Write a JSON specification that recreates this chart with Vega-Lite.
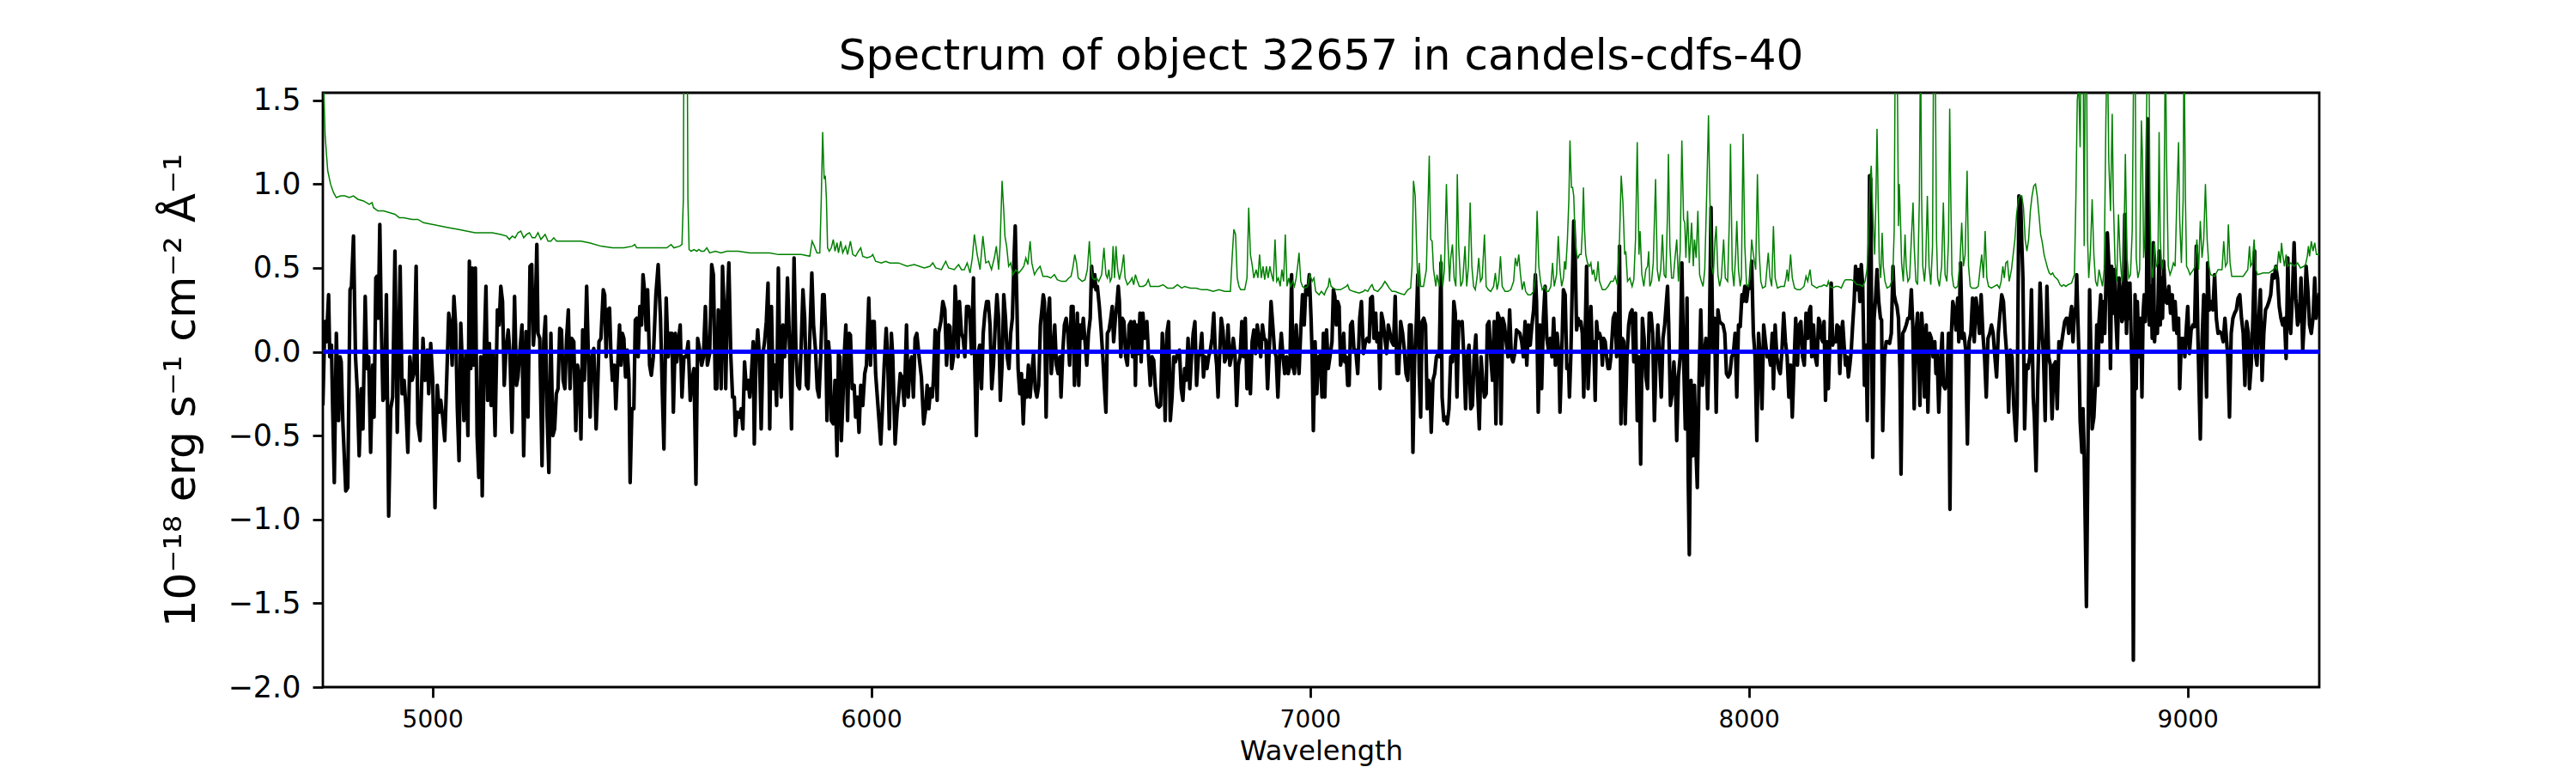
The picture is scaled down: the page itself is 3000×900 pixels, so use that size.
{
"$schema": "https://vega.github.io/schema/vega-lite/v6.json",
"width": 2325,
"height": 692,
"autosize": {"type": "none"},
"padding": {"left": 376, "top": 108, "right": 299, "bottom": 100},
"background": "white",
"title": {"text": "Spectrum of object 32657 in candels-cdfs-40", "font": "DejaVu Sans", "fontSize": 50, "fontWeight": "normal", "color": "#000000", "anchor": "middle", "baseline": "alphabetic", "offset": 13, "dy": 44},
"config": {
  "view": {"stroke": "#000000", "strokeWidth": 2.8},
  "axis": {"grid": false, "domain": false, "tickColor": "#000000", "tickWidth": 2.8, "tickSize": 12, "labelFont": "DejaVu Sans", "labelColor": "#000000", "titleFont": "DejaVu Sans", "titleColor": "#000000", "titleFontWeight": "normal", "labelFlush": false, "labelOverlap": false}
},
"datasets": {
"flux": [
{"wl":4750,"val":-0.32},{"wl":4754.6,"val":0.18},{"wl":4757.9,"val":0.06},{"wl":4763.1,"val":0.34},{"wl":4765.7,"val":-0.03},{"wl":4769.6,"val":0.04},{"wl":4772.2,"val":-0.32},{"wl":4776.1,"val":-0.78},{"wl":4780.7,"val":0.11},{"wl":4785.9,"val":-0.41},{"wl":4789.2,"val":-0.03},{"wl":4791.8,"val":-0.06},{"wl":4795.7,"val":-0.43},{"wl":4802.2,"val":-0.83},{"wl":4806.8,"val":-0.81},{"wl":4812,"val":0.37},{"wl":4815.2,"val":0.39},{"wl":4819.8,"val":0.69},{"wl":4824.4,"val":-0.03},{"wl":4828.3,"val":-0.22},{"wl":4832.8,"val":-0.62},{"wl":4837.4,"val":-0.22},{"wl":4841.3,"val":-0.46},{"wl":4846.5,"val":0.33},{"wl":4850.4,"val":-0.1},{"wl":4854.4,"val":-0.03},{"wl":4858.9,"val":-0.6},{"wl":4863.5,"val":-0.08},{"wl":4866.7,"val":-0.39},{"wl":4870.7,"val":0.44},{"wl":4873.3,"val":0.45},{"wl":4876.5,"val":0.2},{"wl":4879.8,"val":0.76},{"wl":4883,"val":0.2},{"wl":4887,"val":-0.29},{"wl":4890.9,"val":-0.27},{"wl":4894.8,"val":0.34},{"wl":4900,"val":-0.98},{"wl":4904.6,"val":-0.34},{"wl":4909.1,"val":-0.27},{"wl":4914.3,"val":0.6},{"wl":4919.6,"val":-0.48},{"wl":4926.1,"val":0.51},{"wl":4930.6,"val":-0.25},{"wl":4935.2,"val":-0.17},{"wl":4939.1,"val":-0.32},{"wl":4943.7,"val":-0.6},{"wl":4948.2,"val":-0.03},{"wl":4953.5,"val":-0.17},{"wl":4957.4,"val":-0.13},{"wl":4962.6,"val":0.51},{"wl":4966.5,"val":-0.43},{"wl":4971.7,"val":-0.53},{"wl":4978.2,"val":0.08},{"wl":4982.8,"val":-0.17},{"wl":4988,"val":0.01},{"wl":4991.3,"val":-0.25},{"wl":4995.8,"val":0.05},{"wl":5000.4,"val":-0.17},{"wl":5005.6,"val":-0.93},{"wl":5010.8,"val":-0.2},{"wl":5015.4,"val":-0.36},{"wl":5018.7,"val":-0.29},{"wl":5023.2,"val":-0.39},{"wl":5027.8,"val":-0.53},{"wl":5033,"val":-0.1},{"wl":5036.9,"val":0.23},{"wl":5040.8,"val":0.16},{"wl":5044.7,"val":-0.08},{"wl":5048.7,"val":0.33},{"wl":5052.6,"val":0.16},{"wl":5056.5,"val":-0.34},{"wl":5060.4,"val":-0.65},{"wl":5064.3,"val":0.17},{"wl":5068.2,"val":-0.1},{"wl":5071.5,"val":-0.41},{"wl":5076,"val":-0.01},{"wl":5080.6,"val":-0.5},{"wl":5083.9,"val":0.54},{"wl":5087.1,"val":-0.1},{"wl":5090.4,"val":0.5},{"wl":5093.6,"val":-0.08},{"wl":5097.6,"val":0.5},{"wl":5101.5,"val":-0.5},{"wl":5105.4,"val":-0.75},{"wl":5110,"val":-0.03},{"wl":5113.2,"val":-0.86},{"wl":5117.8,"val":0.01},{"wl":5121.7,"val":0.39},{"wl":5125.6,"val":-0.29},{"wl":5129.5,"val":0.05},{"wl":5133.4,"val":-0.32},{"wl":5137.3,"val":-0.01},{"wl":5142.5,"val":-0.5},{"wl":5147.8,"val":0.25},{"wl":5151.7,"val":0.16},{"wl":5155.6,"val":0.39},{"wl":5159.5,"val":0.3},{"wl":5163.4,"val":-0.2},{"wl":5167.3,"val":0.01},{"wl":5172.5,"val":0.13},{"wl":5176.4,"val":-0.01},{"wl":5181,"val":-0.48},{"wl":5186.9,"val":0.33},{"wl":5191.4,"val":-0.2},{"wl":5194.7,"val":-0.15},{"wl":5198.6,"val":-0.01},{"wl":5203.8,"val":0.16},{"wl":5207.7,"val":-0.62},{"wl":5213,"val":0.12},{"wl":5217.5,"val":-0.39},{"wl":5222.1,"val":0.51},{"wl":5226,"val":0.52},{"wl":5229.9,"val":0.04},{"wl":5233.8,"val":0.2},{"wl":5237.7,"val":0.64},{"wl":5240.3,"val":0.11},{"wl":5244.3,"val":0.08},{"wl":5249.5,"val":-0.68},{"wl":5253.4,"val":0.06},{"wl":5257.3,"val":0.21},{"wl":5261.2,"val":-0.39},{"wl":5265.1,"val":-0.72},{"wl":5269.7,"val":0.11},{"wl":5274.2,"val":-0.5},{"wl":5278.2,"val":-0.46},{"wl":5282.1,"val":-0.25},{"wl":5286,"val":-0.22},{"wl":5289.9,"val":0.14},{"wl":5293.8,"val":0.13},{"wl":5297.7,"val":-0.17},{"wl":5301.6,"val":-0.22},{"wl":5305.5,"val":0.08},{"wl":5309.5,"val":0.25},{"wl":5313.4,"val":-0.22},{"wl":5317.3,"val":0.08},{"wl":5321.9,"val":0.06},
{"wl":5326.5,"val":-0.47},{"wl":5330.4,"val":-0.08},{"wl":5334.9,"val":-0.15},{"wl":5338.2,"val":-0.52},{"wl":5342.1,"val":0.13},{"wl":5346,"val":-0.17},{"wl":5351.2,"val":0.39},{"wl":5355.2,"val":-0.03},{"wl":5359.1,"val":-0.39},{"wl":5363,"val":-0.03},{"wl":5367.5,"val":0.02},{"wl":5372.8,"val":-0.46},{"wl":5376,"val":-0.25},{"wl":5379.3,"val":0.06},{"wl":5383.8,"val":0.08},{"wl":5389.1,"val":0.37},{"wl":5392.3,"val":0.34},{"wl":5395.6,"val":-0.03},{"wl":5398.8,"val":0.25},{"wl":5403.4,"val":0.26},{"wl":5406.7,"val":-0.03},{"wl":5409.9,"val":-0.17},{"wl":5414.5,"val":-0.08},{"wl":5417.7,"val":-0.34},{"wl":5421.7,"val":-0.1},{"wl":5426.2,"val":0.16},{"wl":5429.5,"val":-0.08},{"wl":5432.7,"val":0.11},{"wl":5436,"val":0.08},{"wl":5439.9,"val":-0.15},{"wl":5443.8,"val":0.01},{"wl":5447.7,"val":-0.17},{"wl":5450.3,"val":-0.78},{"wl":5454.3,"val":-0.34},{"wl":5458.8,"val":-0.34},{"wl":5462.1,"val":0.19},{"wl":5465.3,"val":0.2},{"wl":5468.6,"val":-0.03},{"wl":5472.5,"val":0.27},{"wl":5476.4,"val":0.16},{"wl":5479.7,"val":0.46},{"wl":5482.9,"val":0.37},{"wl":5486.9,"val":0.13},{"wl":5490.1,"val":0.37},{"wl":5494.7,"val":-0.08},{"wl":5498.6,"val":-0.14},{"wl":5503.2,"val":-0.03},{"wl":5509,"val":0.34},{"wl":5514.2,"val":0.52},{"wl":5519.5,"val":0.2},{"wl":5524,"val":-0.27},{"wl":5527.3,"val":-0.58},{"wl":5532.5,"val":0.32},{"wl":5537.1,"val":-0.03},{"wl":5541.6,"val":0.11},{"wl":5545.5,"val":0.11},{"wl":5548.8,"val":-0.36},{"wl":5553.4,"val":0.11},{"wl":5556.6,"val":-0.06},{"wl":5561.2,"val":0.08},{"wl":5564.4,"val":0.16},{"wl":5568.4,"val":-0.27},{"wl":5572.9,"val":-0.03},{"wl":5578.1,"val":-0.03},{"wl":5582.7,"val":0.06},{"wl":5587.3,"val":-0.29},{"wl":5591.2,"val":-0.17},{"wl":5595.7,"val":-0.1},{"wl":5600.3,"val":-0.79},{"wl":5604.2,"val":0.08},{"wl":5608.8,"val":0.01},{"wl":5613.3,"val":-0.08},{"wl":5617.3,"val":-0.03},{"wl":5621.8,"val":0.27},{"wl":5626.4,"val":-0.08},{"wl":5631.6,"val":-0.01},{"wl":5636.2,"val":0.52},{"wl":5640.1,"val":0.46},{"wl":5644.6,"val":-0.22},{"wl":5647.9,"val":-0.22},{"wl":5651.2,"val":0.25},{"wl":5655.1,"val":0.16},{"wl":5657.7,"val":-0.22},{"wl":5660.9,"val":0.51},{"wl":5664.2,"val":0.27},{"wl":5668.1,"val":-0.22},{"wl":5672,"val":0.3},{"wl":5675.3,"val":0.53},{"wl":5679.8,"val":-0.03},{"wl":5683.8,"val":-0.27},{"wl":5687.7,"val":-0.27},{"wl":5690.3,"val":-0.5},{"wl":5694.2,"val":-0.36},{"wl":5698.8,"val":-0.39},{"wl":5703.3,"val":-0.34},{"wl":5707.2,"val":-0.46},{"wl":5711.1,"val":-0.06},{"wl":5715.1,"val":-0.22},{"wl":5719,"val":-0.17},{"wl":5722.9,"val":-0.27},{"wl":5726.8,"val":-0.13},{"wl":5730.7,"val":0.06},{"wl":5733.3,"val":-0.55},{"wl":5737.2,"val":-0.03},{"wl":5741.1,"val":0.13},{"wl":5745.1,"val":-0.03},{"wl":5749,"val":-0.46},{"wl":5752.9,"val":-0.01},{"wl":5756.8,"val":0.06},{"wl":5760.7,"val":0.18},{"wl":5764.6,"val":0.41},{"wl":5768.5,"val":-0.46},{"wl":5772.4,"val":0.27},{"wl":5776.3,"val":-0.22},{"wl":5780.3,"val":-0.08},{"wl":5784.2,"val":-0.32},{"wl":5788.1,"val":0.5},{"wl":5791.3,"val":-0.03},{"wl":5794.6,"val":-0.27},{"wl":5798.5,"val":0.16},{"wl":5802.4,"val":-0.03},{"wl":5806.3,"val":0.16},{"wl":5808.9,"val":0.44},{"wl":5812.9,"val":0.11},{"wl":5818.1,"val":-0.46},{"wl":5823.9,"val":0.56},{"wl":5828.5,"val":-0.03},{"wl":5832.4,"val":-0.2},{"wl":5836.3,"val":-0.22},{"wl":5840.2,"val":0.04},{"wl":5844.2,"val":0.37},{"wl":5848.1,"val":0.2},{"wl":5852,"val":-0.2},{"wl":5855.9,"val":-0.22},{"wl":5859.8,"val":0.08},{"wl":5864.4,"val":0.47},{"wl":5868.3,"val":0.16},{"wl":5872.8,"val":0.01},{"wl":5876.8,"val":-0.22},{"wl":5880.7,"val":-0.27},{"wl":5884.6,"val":-0.03},{"wl":5889.1,"val":0.34},
{"wl":5892.5,"val":0.34},{"wl":5895.7,"val":0.13},{"wl":5899,"val":-0.41},{"wl":5902.2,"val":0.06},{"wl":5905.5,"val":-0.03},{"wl":5908.8,"val":-0.41},{"wl":5913.3,"val":-0.43},{"wl":5917.2,"val":-0.17},{"wl":5921.8,"val":-0.62},{"wl":5925.1,"val":-0.01},{"wl":5928.3,"val":-0.03},{"wl":5931.6,"val":-0.53},{"wl":5935.5,"val":-0.27},{"wl":5938.1,"val":-0.03},{"wl":5942,"val":0.16},{"wl":5945.9,"val":-0.41},{"wl":5949.8,"val":0.11},{"wl":5952.4,"val":0.1},{"wl":5956.4,"val":-0.22},{"wl":5960.9,"val":-0.2},{"wl":5964.2,"val":-0.39},{"wl":5968.1,"val":-0.27},{"wl":5972,"val":-0.48},{"wl":5975.9,"val":-0.2},{"wl":5980.5,"val":-0.32},{"wl":5985,"val":-0.13},{"wl":5988.9,"val":-0.08},{"wl":5994.2,"val":0.32},{"wl":5998.1,"val":-0.08},{"wl":6002,"val":0.18},{"wl":6006.6,"val":0.18},{"wl":6009.8,"val":-0.13},{"wl":6013.7,"val":-0.27},{"wl":6017.6,"val":-0.41},{"wl":6021.6,"val":-0.55},{"wl":6025.5,"val":-0.32},{"wl":6029.4,"val":-0.08},{"wl":6033.9,"val":0.14},{"wl":6037.2,"val":-0.03},{"wl":6041.1,"val":-0.46},{"wl":6045.7,"val":0.11},{"wl":6048.9,"val":-0.03},{"wl":6054.2,"val":-0.55},{"wl":6058.7,"val":-0.36},{"wl":6062,"val":-0.27},{"wl":6065.9,"val":-0.13},{"wl":6069.8,"val":-0.15},{"wl":6075,"val":-0.32},{"wl":6080.2,"val":0.16},{"wl":6084.1,"val":-0.27},{"wl":6088.1,"val":-0.08},{"wl":6092,"val":-0.03},{"wl":6095.9,"val":-0.27},{"wl":6099.8,"val":0.08},{"wl":6103.7,"val":0.11},{"wl":6108.9,"val":-0.03},{"wl":6114.1,"val":-0.15},{"wl":6119.4,"val":-0.43},{"wl":6123.9,"val":-0.34},{"wl":6127.2,"val":-0.2},{"wl":6131.1,"val":-0.34},{"wl":6135,"val":-0.22},{"wl":6138.9,"val":-0.27},{"wl":6141.5,"val":-0.17},{"wl":6145.4,"val":0.13},{"wl":6150,"val":-0.29},{"wl":6153.3,"val":0.11},{"wl":6158.5,"val":0.18},{"wl":6163,"val":0.3},{"wl":6167.6,"val":0.25},{"wl":6171.5,"val":-0.08},{"wl":6176.1,"val":0.16},{"wl":6179.3,"val":0.15},{"wl":6183.3,"val":-0.1},{"wl":6187.2,"val":-0.03},{"wl":6191.1,"val":0.39},{"wl":6194.3,"val":0.23},{"wl":6197.6,"val":-0.03},{"wl":6200.9,"val":0.3},{"wl":6205.4,"val":0.11},{"wl":6209.3,"val":0.08},{"wl":6213.2,"val":-0.03},{"wl":6217.2,"val":0.27},{"wl":6221.7,"val":0.27},{"wl":6225,"val":0.2},{"wl":6228.2,"val":-0.01},{"wl":6232.8,"val":0.44},{"wl":6235.4,"val":-0.03},{"wl":6239.3,"val":-0.5},{"wl":6243.2,"val":-0.01},{"wl":6247.1,"val":0.04},{"wl":6251.1,"val":-0.22},{"wl":6255,"val":0.11},{"wl":6258.9,"val":0.23},{"wl":6262.8,"val":0.3},{"wl":6266.7,"val":0.3},{"wl":6270.6,"val":0.16},{"wl":6274.5,"val":-0.22},{"wl":6278.4,"val":-0.08},{"wl":6282.4,"val":0.16},{"wl":6286.3,"val":0.34},{"wl":6290.2,"val":0.2},{"wl":6294.1,"val":-0.29},{"wl":6298,"val":-0.08},{"wl":6301.9,"val":0.34},{"wl":6305.8,"val":0.2},{"wl":6309.7,"val":-0.03},{"wl":6313.7,"val":-0.1},{"wl":6317.6,"val":0.11},{"wl":6321.5,"val":0.2},{"wl":6325.4,"val":0.56},{"wl":6328,"val":0.75},{"wl":6331.9,"val":0.27},{"wl":6334.5,"val":-0.1},{"wl":6338.4,"val":-0.25},{"wl":6342.3,"val":-0.13},{"wl":6346.3,"val":-0.43},{"wl":6350.2,"val":-0.17},{"wl":6354.1,"val":-0.27},{"wl":6358,"val":-0.08},{"wl":6361.9,"val":-0.27},{"wl":6365.8,"val":-0.13},{"wl":6369.7,"val":-0.01},{"wl":6373.6,"val":-0.22},{"wl":6377.5,"val":-0.27},{"wl":6381.5,"val":-0.2},{"wl":6385.4,"val":0.16},{"wl":6388,"val":0.23},{"wl":6391.9,"val":0.34},{"wl":6394.5,"val":0.3},{"wl":6398.4,"val":-0.39},{"wl":6402.3,"val":0.2},{"wl":6406.2,"val":0.32},{"wl":6410.1,"val":-0.13},{"wl":6414.1,"val":-0.01},{"wl":6418,"val":0.16},{"wl":6421.9,"val":-0.08},{"wl":6425.8,"val":-0.13},{"wl":6429.7,"val":-0.03},{"wl":6432.3,"val":-0.27},{"wl":6436.2,"val":-0.01},{"wl":6440.1,"val":0.16},{"wl":6444.1,"val":0.2},{"wl":6448,"val":0.11},{"wl":6451.9,"val":-0.08},{"wl":6455.8,"val":0.27},
{"wl":6459.8,"val":0.27},{"wl":6463,"val":-0.2},{"wl":6466.3,"val":-0.03},{"wl":6469.5,"val":0.23},{"wl":6472.8,"val":-0.2},{"wl":6476.1,"val":0.16},{"wl":6479.3,"val":0.08},{"wl":6483.2,"val":0.2},{"wl":6487.1,"val":0.06},{"wl":6491.1,"val":-0.08},{"wl":6495,"val":0.11},{"wl":6498.9,"val":0.2},{"wl":6502.1,"val":0.51},{"wl":6505.4,"val":0.39},{"wl":6509.3,"val":0.46},{"wl":6511.9,"val":0.37},{"wl":6515.2,"val":0.39},{"wl":6519.7,"val":0.27},{"wl":6523.7,"val":0.13},{"wl":6527.6,"val":-0.03},{"wl":6531.5,"val":-0.22},{"wl":6534.7,"val":-0.36},{"wl":6538,"val":0.11},{"wl":6541.9,"val":0.13},{"wl":6545.8,"val":0.2},{"wl":6549.1,"val":0.27},{"wl":6552.3,"val":0.06},{"wl":6556.3,"val":0.2},{"wl":6560.2,"val":0.3},{"wl":6562.8,"val":0.39},{"wl":6565.4,"val":0.3},{"wl":6568.6,"val":-0.03},{"wl":6571.9,"val":0.2},{"wl":6575.8,"val":0.18},{"wl":6579.7,"val":-0.03},{"wl":6583.6,"val":-0.08},{"wl":6587.6,"val":0.16},{"wl":6591.5,"val":0.18},{"wl":6595.4,"val":-0.03},{"wl":6599.3,"val":0.18},{"wl":6601.9,"val":-0.2},{"wl":6604.5,"val":0.16},{"wl":6608.4,"val":-0.01},{"wl":6612.3,"val":0.23},{"wl":6614.9,"val":-0.06},{"wl":6618.9,"val":0.23},{"wl":6622.8,"val":0.08},{"wl":6628,"val":0.18},{"wl":6631.9,"val":-0.03},{"wl":6635.8,"val":-0.2},{"wl":6639.7,"val":-0.03},{"wl":6643.6,"val":-0.05},{"wl":6647.5,"val":-0.22},{"wl":6651.4,"val":-0.32},{"wl":6655.4,"val":-0.33},{"wl":6659.3,"val":-0.32},{"wl":6663.2,"val":0.11},{"wl":6666.4,"val":-0.03},{"wl":6669.7,"val":-0.41},{"wl":6673.6,"val":0.11},{"wl":6677.5,"val":0.18},{"wl":6681.4,"val":-0.41},{"wl":6685.4,"val":-0.27},{"wl":6689.3,"val":-0.03},{"wl":6693.2,"val":-0.06},{"wl":6697.7,"val":-0.01},{"wl":6702.3,"val":0.01},{"wl":6706.2,"val":-0.22},{"wl":6710.1,"val":-0.29},{"wl":6714,"val":-0.1},{"wl":6717.9,"val":-0.17},{"wl":6721.9,"val":0.08},{"wl":6725.8,"val":-0.22},{"wl":6729.7,"val":-0.03},{"wl":6733.6,"val":0.11},{"wl":6737.5,"val":0.18},{"wl":6741.4,"val":-0.2},{"wl":6745.3,"val":-0.03},{"wl":6749.2,"val":-0.01},{"wl":6753.2,"val":0.11},{"wl":6757.1,"val":-0.15},{"wl":6761,"val":-0.03},{"wl":6764.9,"val":-0.1},{"wl":6768.8,"val":-0.03},{"wl":6772.7,"val":0.01},{"wl":6776.6,"val":0.08},{"wl":6780.5,"val":0.23},{"wl":6783.8,"val":0.01},{"wl":6787.1,"val":-0.08},{"wl":6790.3,"val":-0.27},{"wl":6793.6,"val":-0.03},{"wl":6797.5,"val":0.2},{"wl":6801.4,"val":0.13},{"wl":6805.3,"val":-0.06},{"wl":6809.2,"val":-0.03},{"wl":6813.1,"val":0.16},{"wl":6817.1,"val":-0.08},{"wl":6821,"val":-0.03},{"wl":6824.9,"val":0.08},{"wl":6828.8,"val":-0.01},{"wl":6832.7,"val":-0.32},{"wl":6836.6,"val":-0.08},{"wl":6840.5,"val":-0.03},{"wl":6844.4,"val":0.18},{"wl":6848.4,"val":-0.03},{"wl":6852.3,"val":0.2},{"wl":6856.2,"val":-0.22},{"wl":6860.1,"val":-0.01},{"wl":6864,"val":-0.25},{"wl":6867.9,"val":0.06},{"wl":6871.8,"val":0.13},{"wl":6875.7,"val":-0.01},{"wl":6879.6,"val":0.16},{"wl":6883.6,"val":0.08},{"wl":6887.5,"val":-0.03},{"wl":6891.4,"val":0.16},{"wl":6895.3,"val":0.08},{"wl":6899.2,"val":0.07},{"wl":6903.1,"val":-0.22},{"wl":6907,"val":0.01},{"wl":6911,"val":0.3},{"wl":6914.9,"val":0.16},{"wl":6918.8,"val":0.01},{"wl":6922.7,"val":-0.03},{"wl":6926.6,"val":-0.27},{"wl":6930.5,"val":-0.03},{"wl":6934.4,"val":0.11},{"wl":6938.3,"val":-0.03},{"wl":6942.2,"val":-0.13},{"wl":6946.2,"val":-0.03},{"wl":6950.1,"val":-0.13},{"wl":6954,"val":-0.08},{"wl":6957.9,"val":0.46},{"wl":6960.5,"val":-0.08},{"wl":6964.4,"val":-0.13},{"wl":6968.3,"val":0.16},{"wl":6971.6,"val":-0.03},{"wl":6974.8,"val":-0.13},{"wl":6978.8,"val":0.13},{"wl":6982.7,"val":0.34},{"wl":6986.6,"val":0.16},{"wl":6990.5,"val":0.39},{"wl":6994.4,"val":0.34},{"wl":6998.3,"val":0.46},{"wl":7002.2,"val":0.2},{"wl":7004.8,"val":-0.03},{"wl":7007.4,"val":-0.47},{"wl":7011.4,"val":0.06},{"wl":7015.3,"val":-0.25},{"wl":7019.2,"val":-0.03},{"wl":7023.7,"val":-0.02},
{"wl":7027.1,"val":-0.27},{"wl":7030.3,"val":0.11},{"wl":7033.6,"val":-0.27},{"wl":7037.5,"val":0.13},{"wl":7041.4,"val":-0.1},{"wl":7045.3,"val":-0.03},{"wl":7049.9,"val":0.06},{"wl":7053.1,"val":0.37},{"wl":7056.4,"val":0.33},{"wl":7059.7,"val":0.16},{"wl":7062.9,"val":0.3},{"wl":7066.2,"val":0.27},{"wl":7069.4,"val":-0.08},{"wl":7072.7,"val":-0.03},{"wl":7076.6,"val":0.11},{"wl":7079.2,"val":-0.06},{"wl":7082.5,"val":-0.03},{"wl":7085.7,"val":-0.2},{"wl":7089,"val":-0.2},{"wl":7092.3,"val":0.16},{"wl":7096.2,"val":0.18},{"wl":7100.1,"val":0.01},{"wl":7104,"val":0.01},{"wl":7108.6,"val":-0.13},{"wl":7113.1,"val":0.2},{"wl":7117,"val":0.3},{"wl":7121.6,"val":-0.01},{"wl":7126.2,"val":0.06},{"wl":7130.1,"val":0.08},{"wl":7134.6,"val":0.06},{"wl":7137.9,"val":0.32},{"wl":7141.8,"val":0.33},{"wl":7145.7,"val":0.08},{"wl":7149.6,"val":0.23},{"wl":7152.2,"val":0.06},{"wl":7156.2,"val":0.11},{"wl":7159.4,"val":-0.22},{"wl":7162.7,"val":0.23},{"wl":7166.6,"val":0.18},{"wl":7170.5,"val":0.08},{"wl":7174.4,"val":-0.01},{"wl":7178.3,"val":0.16},{"wl":7182.2,"val":0.11},{"wl":7186.1,"val":0.06},{"wl":7190.1,"val":0.04},{"wl":7194,"val":0.33},{"wl":7197.9,"val":-0.13},{"wl":7201.8,"val":-0.13},{"wl":7206.4,"val":0.18},{"wl":7210.9,"val":0.11},{"wl":7214.8,"val":0.01},{"wl":7218.7,"val":-0.13},{"wl":7222.7,"val":-0.17},{"wl":7226.6,"val":0.16},{"wl":7230.5,"val":0.16},{"wl":7234.4,"val":-0.6},{"wl":7238.3,"val":-0.03},{"wl":7242.2,"val":0.18},{"wl":7245.5,"val":0.46},{"wl":7248.7,"val":-0.13},{"wl":7252,"val":-0.39},{"wl":7255.3,"val":0.18},{"wl":7259.2,"val":0.2},{"wl":7263.1,"val":0.16},{"wl":7267,"val":-0.34},{"wl":7270.3,"val":-0.17},{"wl":7273.5,"val":-0.22},{"wl":7276.1,"val":-0.48},{"wl":7280,"val":-0.17},{"wl":7284,"val":-0.13},{"wl":7287.9,"val":-0.03},{"wl":7291.8,"val":-0.01},{"wl":7294.4,"val":-0.03},{"wl":7298.3,"val":0.53},{"wl":7300.9,"val":-0.27},{"wl":7304.8,"val":-0.41},{"wl":7308.7,"val":-0.39},{"wl":7312.6,"val":-0.43},{"wl":7316.5,"val":-0.34},{"wl":7320.5,"val":-0.03},{"wl":7324.4,"val":-0.06},{"wl":7327.6,"val":0.3},{"wl":7330.9,"val":0.23},{"wl":7334.8,"val":-0.27},{"wl":7338.7,"val":0.18},{"wl":7342.6,"val":0.16},{"wl":7346.5,"val":0.18},{"wl":7350.5,"val":-0.03},{"wl":7354.4,"val":-0.34},{"wl":7358.3,"val":-0.03},{"wl":7362.2,"val":0.04},{"wl":7366.1,"val":-0.34},{"wl":7370,"val":-0.32},{"wl":7373.9,"val":-0.03},{"wl":7377.8,"val":0.1},{"wl":7381.7,"val":-0.22},{"wl":7385.7,"val":-0.46},{"wl":7389.6,"val":-0.03},{"wl":7393.5,"val":-0.17},{"wl":7397.4,"val":-0.27},{"wl":7401.3,"val":-0.25},{"wl":7403.9,"val":0.16},{"wl":7407.8,"val":0.18},{"wl":7411.7,"val":-0.03},{"wl":7415.7,"val":-0.17},{"wl":7419.6,"val":0.18},{"wl":7423.5,"val":-0.43},{"wl":7427.4,"val":0.23},{"wl":7431.3,"val":0.2},{"wl":7435.2,"val":-0.43},{"wl":7439.1,"val":0.2},{"wl":7443,"val":0.16},{"wl":7446.9,"val":0.06},{"wl":7450.9,"val":-0.03},{"wl":7454.8,"val":0.25},{"wl":7458.7,"val":-0.03},{"wl":7462.6,"val":-0.06},{"wl":7466.5,"val":-0.01},{"wl":7470.4,"val":0.13},{"wl":7474.3,"val":0.12},{"wl":7478.2,"val":0.11},{"wl":7482.2,"val":0.06},{"wl":7486.1,"val":-0.03},{"wl":7490,"val":0.18},{"wl":7493.9,"val":-0.08},{"wl":7497.8,"val":0.16},{"wl":7501.7,"val":0.04},{"wl":7505.6,"val":0.16},{"wl":7509.5,"val":0.25},{"wl":7513.5,"val":0.46},{"wl":7516.1,"val":0.3},{"wl":7520,"val":-0.36},{"wl":7523.9,"val":0.16},{"wl":7527.8,"val":-0.22},{"wl":7531.7,"val":0.2},{"wl":7535.6,"val":0.39},{"wl":7539.5,"val":0.08},{"wl":7543.4,"val":0.01},{"wl":7547.4,"val":0.08},{"wl":7551.3,"val":-0.03},{"wl":7555.2,"val":0.2},{"wl":7559.1,"val":-0.08},{"wl":7563,"val":0.11},{"wl":7566.9,"val":-0.01},{"wl":7569.5,"val":-0.36},{"wl":7573.4,"val":-0.03},{"wl":7577.4,"val":0.37},{"wl":7581.3,"val":0.34},{"wl":7585.2,"val":-0.1},{"wl":7589.1,"val":-0.08},
{"wl":7591.1,"val":-0.27},{"wl":7594.4,"val":-0.01},{"wl":7597.6,"val":0.41},{"wl":7600.9,"val":0.78},{"wl":7604.1,"val":0.58},{"wl":7607.4,"val":0.13},{"wl":7610.7,"val":0.2},{"wl":7613.9,"val":0.16},{"wl":7617.2,"val":0.18},{"wl":7620.4,"val":0.11},{"wl":7623.7,"val":-0.27},{"wl":7627,"val":0.11},{"wl":7630.2,"val":0.51},{"wl":7633.5,"val":-0.22},{"wl":7636.7,"val":-0.03},{"wl":7640,"val":0.27},{"wl":7643.3,"val":0.01},{"wl":7646.5,"val":0.06},{"wl":7649.8,"val":-0.29},{"wl":7653,"val":0.18},{"wl":7656.3,"val":0.08},{"wl":7659.6,"val":0.11},{"wl":7662.8,"val":0.08},{"wl":7666.1,"val":-0.08},{"wl":7669.3,"val":0.08},{"wl":7672.6,"val":0.06},{"wl":7675.9,"val":-0.03},{"wl":7679.1,"val":-0.1},{"wl":7682.4,"val":-0.1},{"wl":7685.6,"val":-0.03},{"wl":7690.9,"val":0.2},{"wl":7694.8,"val":0.23},{"wl":7698.7,"val":-0.03},{"wl":7702.6,"val":0.13},{"wl":7705.2,"val":0.63},{"wl":7708.5,"val":-0.43},{"wl":7711.7,"val":0.08},{"wl":7715,"val":0.06},{"wl":7718.2,"val":-0.43},{"wl":7722.2,"val":-0.03},{"wl":7726.1,"val":0.16},{"wl":7730,"val":0.23},{"wl":7733.9,"val":0.25},{"wl":7737.8,"val":-0.06},{"wl":7741.7,"val":0.23},{"wl":7745.6,"val":-0.41},{"wl":7749.5,"val":-0.03},{"wl":7753.4,"val":-0.67},{"wl":7757.4,"val":0.2},{"wl":7761.3,"val":0.08},{"wl":7765.2,"val":-0.15},{"wl":7769.1,"val":-0.22},{"wl":7773,"val":0.23},{"wl":7776.9,"val":0.23},{"wl":7780.8,"val":0.11},{"wl":7784.7,"val":-0.41},{"wl":7788.7,"val":-0.03},{"wl":7792.6,"val":0.16},{"wl":7796.5,"val":-0.03},{"wl":7800.4,"val":-0.27},{"wl":7804.3,"val":0.08},{"wl":7808.2,"val":0.16},{"wl":7812.1,"val":0.3},{"wl":7814.7,"val":0.39},{"wl":7817.3,"val":0.16},{"wl":7821.3,"val":-0.32},{"wl":7825.2,"val":-0.25},{"wl":7829.1,"val":-0.06},{"wl":7833,"val":-0.22},{"wl":7835.6,"val":-0.53},{"wl":7839.5,"val":-0.15},{"wl":7843.4,"val":-0.03},{"wl":7847.3,"val":0.53},{"wl":7851.2,"val":-0.03},{"wl":7855.2,"val":-0.46},{"wl":7859.1,"val":0.32},{"wl":7861.7,"val":-0.74},{"wl":7864.3,"val":-1.21},{"wl":7868.2,"val":-0.17},{"wl":7872.1,"val":-0.62},{"wl":7876,"val":-0.2},{"wl":7879.9,"val":-0.62},{"wl":7882.5,"val":-0.81},{"wl":7886.5,"val":-0.17},{"wl":7890.4,"val":0.25},{"wl":7894.3,"val":-0.2},{"wl":7898.2,"val":-0.01},{"wl":7902.1,"val":0.08},{"wl":7906,"val":-0.34},{"wl":7909.9,"val":0.08},{"wl":7913.8,"val":0.86},{"wl":7917.8,"val":0.01},{"wl":7921.7,"val":0.2},{"wl":7925.6,"val":-0.36},{"wl":7929.5,"val":0.25},{"wl":7933.4,"val":0.18},{"wl":7937.3,"val":0.17},{"wl":7941.2,"val":0.16},{"wl":7945.1,"val":0.11},{"wl":7949,"val":-0.13},{"wl":7953,"val":-0.15},{"wl":7956.9,"val":-0.13},{"wl":7960.8,"val":-0.03},{"wl":7964.7,"val":-0.01},{"wl":7968.6,"val":0.11},{"wl":7972.5,"val":-0.27},{"wl":7976.4,"val":0.16},{"wl":7980.3,"val":0.15},{"wl":7984.3,"val":0.34},{"wl":7986.9,"val":0.3},{"wl":7990.8,"val":0.39},{"wl":7994.7,"val":0.3},{"wl":7998.6,"val":0.39},{"wl":8002.5,"val":0.38},{"wl":8006.4,"val":0.54},{"wl":8010.3,"val":0.11},{"wl":8014.2,"val":-0.03},{"wl":8018.2,"val":-0.53},{"wl":8022.1,"val":0.11},{"wl":8026,"val":-0.03},{"wl":8029.9,"val":-0.34},{"wl":8033.8,"val":0.16},{"wl":8037.7,"val":0.06},{"wl":8041.6,"val":-0.03},{"wl":8045.5,"val":-0.01},{"wl":8049.4,"val":-0.08},{"wl":8053.4,"val":0.11},{"wl":8056,"val":-0.22},{"wl":8059.9,"val":0.16},{"wl":8063.8,"val":-0.03},{"wl":8067.7,"val":-0.1},{"wl":8071.6,"val":-0.13},{"wl":8075.5,"val":0.01},{"wl":8079.4,"val":0.23},{"wl":8083.4,"val":0.06},{"wl":8087.3,"val":-0.03},{"wl":8091.2,"val":-0.27},{"wl":8095.1,"val":-0.08},{"wl":8099,"val":-0.39},{"wl":8102.9,"val":-0.08},{"wl":8106.8,"val":0.2},{"wl":8110.7,"val":-0.08},{"wl":8114.7,"val":0.16},{"wl":8118.6,"val":0.18},{"wl":8122.5,"val":-0.03},{"wl":8126.4,"val":-0.08},{"wl":8130.3,"val":0.23},{"wl":8134.2,"val":0.08},{"wl":8138.1,"val":0.25},{"wl":8140.7,"val":0.27},{"wl":8143.3,"val":-0.03},{"wl":8147.3,"val":0.16},{"wl":8151.2,"val":-0.03},{"wl":8155.1,"val":-0.08},{"wl":8159,"val":0.2},
{"wl":8161.7,"val":0.18},{"wl":8165.6,"val":0.08},{"wl":8168.2,"val":0.06},{"wl":8171.4,"val":0.18},{"wl":8174.7,"val":-0.29},{"wl":8178,"val":0.06},{"wl":8181.2,"val":-0.22},{"wl":8184.5,"val":0.06},{"wl":8187.7,"val":0.41},{"wl":8191,"val":0.04},{"wl":8194.3,"val":0.08},{"wl":8198.2,"val":0.06},{"wl":8200.8,"val":0.16},{"wl":8204,"val":0.15},{"wl":8207.3,"val":-0.13},{"wl":8210.6,"val":0.11},{"wl":8213.8,"val":0.18},{"wl":8217.1,"val":0.04},{"wl":8220.3,"val":-0.08},{"wl":8223.6,"val":-0.03},{"wl":8226.9,"val":-0.15},{"wl":8230.1,"val":-0.08},{"wl":8233.4,"val":0.01},{"wl":8236.6,"val":0.16},{"wl":8239.9,"val":0.3},{"wl":8243.2,"val":0.51},{"wl":8246.4,"val":0.37},{"wl":8249.7,"val":0.49},{"wl":8252.9,"val":0.3},{"wl":8256.2,"val":0.52},{"wl":8259.5,"val":0.39},{"wl":8263.4,"val":-0.2},{"wl":8267.3,"val":0.04},{"wl":8269.9,"val":-0.41},{"wl":8272.5,"val":0.11},{"wl":8275.1,"val":1.05},{"wl":8277.7,"val":1.03},{"wl":8280.3,"val":-0.03},{"wl":8282.3,"val":-0.63},{"wl":8285.5,"val":0.2},{"wl":8288.8,"val":0.32},{"wl":8292.1,"val":0.49},{"wl":8296,"val":0.3},{"wl":8299.9,"val":0.2},{"wl":8302.5,"val":0.19},{"wl":8305.1,"val":-0.47},{"wl":8309,"val":-0.03},{"wl":8312.9,"val":0.06},{"wl":8316.8,"val":0.06},{"wl":8320.7,"val":0.05},{"wl":8324.7,"val":0.11},{"wl":8328.6,"val":0.51},{"wl":8331.2,"val":0.34},{"wl":8334.4,"val":0.3},{"wl":8337.7,"val":0.27},{"wl":8341,"val":0.2},{"wl":8344.2,"val":-0.1},{"wl":8346.8,"val":-0.73},{"wl":8350.7,"val":0.11},{"wl":8354.7,"val":0.13},{"wl":8358.6,"val":0.16},{"wl":8362.5,"val":0.2},{"wl":8366.4,"val":0.2},{"wl":8370.3,"val":0.37},{"wl":8373.6,"val":0.16},{"wl":8376.8,"val":-0.34},{"wl":8380.7,"val":0.11},{"wl":8384.6,"val":0.23},{"wl":8389.9,"val":-0.32},{"wl":8393.8,"val":0.23},{"wl":8396.4,"val":0.11},{"wl":8400.3,"val":-0.27},{"wl":8404.2,"val":0.16},{"wl":8408.1,"val":-0.36},{"wl":8412,"val":0.11},{"wl":8415.9,"val":0.08},{"wl":8419.9,"val":-0.03},{"wl":8423.8,"val":0.06},{"wl":8426.4,"val":-0.13},{"wl":8429,"val":-0.01},{"wl":8432.9,"val":-0.36},{"wl":8436.8,"val":-0.06},{"wl":8440.7,"val":0.11},{"wl":8443.3,"val":-0.2},{"wl":8447.2,"val":-0.22},{"wl":8451.2,"val":-0.17},{"wl":8455.1,"val":0.11},{"wl":8458.3,"val":-0.94},{"wl":8461.6,"val":0.11},{"wl":8464.8,"val":0.3},{"wl":8468.1,"val":0.25},{"wl":8472,"val":0.13},{"wl":8475.9,"val":0.32},{"wl":8478.5,"val":0.06},{"wl":8482.4,"val":0.53},{"wl":8486.4,"val":0.08},{"wl":8490.3,"val":0.11},{"wl":8494.2,"val":0.01},{"wl":8498.1,"val":-0.55},{"wl":8502,"val":0.06},{"wl":8505.9,"val":0.11},{"wl":8509.8,"val":0.32},{"wl":8513.7,"val":0.06},{"wl":8517.7,"val":0.32},{"wl":8521.6,"val":0.23},{"wl":8525.5,"val":0.11},{"wl":8529.4,"val":0.34},{"wl":8533.3,"val":0.11},{"wl":8537.2,"val":-0.03},{"wl":8541.1,"val":-0.27},{"wl":8545,"val":0.08},{"wl":8549,"val":0.11},{"wl":8552.9,"val":0.16},{"wl":8556.8,"val":0.11},{"wl":8560.7,"val":-0.03},{"wl":8564.6,"val":-0.15},{"wl":8568.5,"val":0.11},{"wl":8572.4,"val":0.23},{"wl":8576.3,"val":0.34},{"wl":8580.2,"val":0.3},{"wl":8584.2,"val":0.11},{"wl":8588.1,"val":-0.03},{"wl":8592,"val":-0.36},{"wl":8595.9,"val":0.01},{"wl":8599.8,"val":-0.03},{"wl":8603.7,"val":-0.32},{"wl":8608.9,"val":-0.53},{"wl":8611.5,"val":-0.32},{"wl":8615.5,"val":0.93},{"wl":8619.4,"val":0.91},{"wl":8622,"val":0.65},{"wl":8624.6,"val":0.44},{"wl":8628.5,"val":-0.46},{"wl":8632.4,"val":-0.08},{"wl":8636.3,"val":-0.1},{"wl":8640.2,"val":-0.03},{"wl":8644.1,"val":0.37},{"wl":8648.1,"val":-0.27},{"wl":8650.7,"val":-0.39},{"wl":8654.6,"val":-0.71},{"wl":8658.5,"val":-0.17},{"wl":8661.1,"val":0.08},{"wl":8663.7,"val":0.41},{"wl":8667.6,"val":0.16},{"wl":8671.5,"val":-0.03},{"wl":8675.4,"val":-0.41},{"wl":8679.3,"val":0.39},{"wl":8683.3,"val":-0.03},{"wl":8687.2,"val":-0.08},{"wl":8691.1,"val":-0.4},{"wl":8695,"val":-0.08},{"wl":8698.9,"val":-0.06},{"wl":8702.8,"val":-0.34},{"wl":8706.7,"val":0.06},{"wl":8710.6,"val":0.01},{"wl":8715.9,"val":0.11},{"wl":8719.8,"val":0.18},{"wl":8723.7,"val":0.2},
{"wl":8725.7,"val":0.2},{"wl":8729,"val":0.11},{"wl":8732.2,"val":0.2},{"wl":8735.5,"val":0.27},{"wl":8738.7,"val":0.06},{"wl":8742,"val":0.23},{"wl":8745.3,"val":0.27},{"wl":8747.2,"val":0.46},{"wl":8749.8,"val":0.2},{"wl":8752.4,"val":-0.03},{"wl":8755,"val":-0.41},{"wl":8759,"val":-0.6},{"wl":8761.6,"val":-0.34},{"wl":8764.2,"val":-0.6},{"wl":8769.4,"val":-1.52},{"wl":8773.3,"val":-0.46},{"wl":8776.6,"val":0.37},{"wl":8779.8,"val":-0.03},{"wl":8782.4,"val":-0.46},{"wl":8786.3,"val":-0.39},{"wl":8790.2,"val":-0.17},{"wl":8792.9,"val":0.16},{"wl":8795.5,"val":-0.2},{"wl":8798.1,"val":0.18},{"wl":8802,"val":0.34},{"wl":8804.6,"val":0.06},{"wl":8807.2,"val":0.3},{"wl":8811.1,"val":0.11},{"wl":8813.7,"val":0.39},{"wl":8817,"val":0.71},{"wl":8820.2,"val":0.53},{"wl":8824.2,"val":-0.1},{"wl":8826.8,"val":0.51},{"wl":8830,"val":0.23},{"wl":8833.3,"val":0.49},{"wl":8836.5,"val":0.2},{"wl":8839.8,"val":0.01},{"wl":8843.7,"val":0.44},{"wl":8847.6,"val":0.34},{"wl":8850.2,"val":0.18},{"wl":8852.8,"val":0.2},{"wl":8856.8,"val":0.82},{"wl":8860.7,"val":0.11},{"wl":8863.3,"val":0.41},{"wl":8865.9,"val":0.2},{"wl":8868.5,"val":0.41},{"wl":8871.1,"val":0.11},{"wl":8873.7,"val":-0.17},{"wl":8876.3,"val":-1.84},{"wl":8880.2,"val":0.34},{"wl":8882.8,"val":-0.22},{"wl":8885.4,"val":0.3},{"wl":8889.4,"val":-0.03},{"wl":8893.3,"val":0.2},{"wl":8895.9,"val":-0.27},{"wl":8898.5,"val":0.23},{"wl":8901.1,"val":0.34},{"wl":8903.7,"val":0.18},{"wl":8906.3,"val":0.32},{"wl":8908.9,"val":1.39},{"wl":8912.8,"val":0.16},{"wl":8916.7,"val":0.39},{"wl":8919.3,"val":0.08},{"wl":8921.9,"val":0.65},{"wl":8924.6,"val":0.06},{"wl":8927.2,"val":0.2},{"wl":8931.1,"val":0.11},{"wl":8935,"val":0.6},{"wl":8937.6,"val":0.16},{"wl":8940.2,"val":0.44},{"wl":8942.8,"val":0.2},{"wl":8945.4,"val":0.54},{"wl":8949.3,"val":0.3},{"wl":8953.2,"val":0.29},{"wl":8957.2,"val":0.39},{"wl":8961.1,"val":0.23},{"wl":8965,"val":0.34},{"wl":8968.9,"val":0.13},{"wl":8971.5,"val":0.3},{"wl":8975.4,"val":0.11},{"wl":8979.3,"val":0.2},{"wl":8981.9,"val":-0.22},{"wl":8985.8,"val":0.08},{"wl":8989.8,"val":0.08},{"wl":8993.7,"val":-0.03},{"wl":8996.3,"val":0.11},{"wl":9000.2,"val":0.27},{"wl":9004.1,"val":-0.01},{"wl":9008,"val":0.13},{"wl":9011.9,"val":0.16},{"wl":9015.8,"val":0.15},{"wl":9019.8,"val":0.63},{"wl":9023.7,"val":0.06},{"wl":9028.9,"val":-0.52},{"wl":9032.8,"val":0.06},{"wl":9036.7,"val":0.34},{"wl":9040.6,"val":-0.03},{"wl":9043.2,"val":-0.27},{"wl":9045.6,"val":0.53},{"wl":9049.7,"val":0.25},{"wl":9053.7,"val":0.3},{"wl":9057.6,"val":0.25},{"wl":9061.5,"val":0.46},{"wl":9065.4,"val":0.2},{"wl":9069.3,"val":0.11},{"wl":9073.2,"val":0.12},{"wl":9077.1,"val":0.11},{"wl":9081,"val":0.06},{"wl":9085,"val":0.2},{"wl":9087.6,"val":0.11},{"wl":9091.5,"val":-0.03},{"wl":9095.4,"val":-0.39},{"wl":9099.3,"val":0.11},{"wl":9103.2,"val":0.2},{"wl":9107.1,"val":0.23},{"wl":9111,"val":0.25},{"wl":9114.9,"val":0.32},{"wl":9118.9,"val":0.34},{"wl":9122.8,"val":0.2},{"wl":9126.7,"val":0.11},{"wl":9130.6,"val":-0.2},{"wl":9134.5,"val":0.18},{"wl":9138.4,"val":0.11},{"wl":9141,"val":-0.22},{"wl":9144.9,"val":-0.08},{"wl":9148.8,"val":0.2},{"wl":9152.8,"val":0.6},{"wl":9155.4,"val":-0.03},{"wl":9158,"val":-0.08},{"wl":9161.9,"val":0.18},{"wl":9165.8,"val":0.37},{"wl":9169.7,"val":-0.17},{"wl":9173.6,"val":0.11},{"wl":9177.5,"val":0.25},{"wl":9181.4,"val":0.27},{"wl":9185.4,"val":0.3},{"wl":9189.3,"val":0.34},{"wl":9193.2,"val":0.46},{"wl":9197.1,"val":0.44},{"wl":9201,"val":0.51},{"wl":9204.9,"val":0.44},{"wl":9208.8,"val":0.27},{"wl":9212.7,"val":0.2},{"wl":9216.7,"val":0.16},{"wl":9220.6,"val":0.2},{"wl":9224.5,"val":-0.04},{"wl":9228.4,"val":0.56},{"wl":9231,"val":0.2},{"wl":9234.9,"val":0.11},{"wl":9238.8,"val":0.34},{"wl":9242.7,"val":0.65},{"wl":9246.6,"val":0.32},{"wl":9250.6,"val":0.16},{"wl":9254.5,"val":0.2},{"wl":9258.4,"val":0.44},{"wl":9262.3,"val":0.01},{"wl":9266.2,"val":0.2},{"wl":9270.1,"val":0.51},{"wl":9274,"val":0.37},{"wl":9277.9,"val":0.16},{"wl":9281.9,"val":0.11},{"wl":9285.8,"val":0.2},{"wl":9289.7,"val":0.44},{"wl":9292.9,"val":0.2},{"wl":9298,"val":0.3},{"wl":9300,"val":0.35}
],
"noise": [
{"wl":4750,"val":2.2},{"wl":4752.6,"val":1.52},{"wl":4755,"val":1.3},{"wl":4757.9,"val":1.19},{"wl":4761.1,"val":1.08},{"wl":4767.6,"val":1.0},{"wl":4774.2,"val":0.95},{"wl":4780.7,"val":0.92},{"wl":4790.5,"val":0.93},{"wl":4800.2,"val":0.93},{"wl":4810,"val":0.92},{"wl":4819.8,"val":0.93},{"wl":4829.6,"val":0.91},{"wl":4842.6,"val":0.9},{"wl":4855.7,"val":0.88},{"wl":4862.2,"val":0.89},{"wl":4865.4,"val":0.86},{"wl":4875.2,"val":0.84},{"wl":4888.3,"val":0.84},{"wl":4901.3,"val":0.83},{"wl":4914.3,"val":0.82},{"wl":4924.1,"val":0.8},{"wl":4933.9,"val":0.8},{"wl":4953.5,"val":0.79},{"wl":4966.5,"val":0.79},{"wl":4979.5,"val":0.77},{"wl":4999.1,"val":0.76},{"wl":5018.7,"val":0.75},{"wl":5038.2,"val":0.74},{"wl":5057.8,"val":0.73},{"wl":5077.3,"val":0.72},{"wl":5096.9,"val":0.71},{"wl":5116.5,"val":0.71},{"wl":5136,"val":0.71},{"wl":5155.6,"val":0.7},{"wl":5168.6,"val":0.69},{"wl":5175.1,"val":0.67},{"wl":5181.7,"val":0.69},{"wl":5188.2,"val":0.68},{"wl":5194.7,"val":0.71},{"wl":5201.2,"val":0.72},{"wl":5207.7,"val":0.68},{"wl":5214.3,"val":0.7},{"wl":5220.8,"val":0.71},{"wl":5227.3,"val":0.68},{"wl":5233.8,"val":0.68},{"wl":5240.3,"val":0.71},{"wl":5246.9,"val":0.67},{"wl":5256.6,"val":0.7},{"wl":5263.2,"val":0.66},{"wl":5269.7,"val":0.66},{"wl":5276.2,"val":0.68},{"wl":5282.7,"val":0.66},{"wl":5299,"val":0.66},{"wl":5312.1,"val":0.66},{"wl":5323.8,"val":0.66},
{"wl":5338.2,"val":0.66},{"wl":5357.8,"val":0.65},{"wl":5383.8,"val":0.63},{"wl":5409.9,"val":0.62},{"wl":5436,"val":0.62},{"wl":5455.6,"val":0.63},{"wl":5460.8,"val":0.64},{"wl":5465.3,"val":0.62},{"wl":5488.2,"val":0.62},{"wl":5514.2,"val":0.62},{"wl":5533.8,"val":0.62},{"wl":5543.6,"val":0.64},{"wl":5550.1,"val":0.62},{"wl":5563.1,"val":0.63},{"wl":5568.4,"val":0.64},{"wl":5571.6,"val":0.91},{"wl":5573.6,"val":2.5},{"wl":5579.4,"val":2.5},{"wl":5582,"val":0.91},{"wl":5584.7,"val":0.61},{"wl":5589.2,"val":0.6},{"wl":5595.7,"val":0.61},{"wl":5602.3,"val":0.6},{"wl":5606.8,"val":0.61},{"wl":5612,"val":0.6},{"wl":5618.6,"val":0.6},{"wl":5625.1,"val":0.62},{"wl":5631.6,"val":0.59},{"wl":5644.6,"val":0.6},{"wl":5657.7,"val":0.59},{"wl":5670.7,"val":0.6},{"wl":5696.8,"val":0.6},{"wl":5722.9,"val":0.59},{"wl":5749,"val":0.59},{"wl":5768.5,"val":0.59},{"wl":5788.1,"val":0.58},{"wl":5814.2,"val":0.58},{"wl":5840.2,"val":0.58},{"wl":5859.8,"val":0.57},{"wl":5865,"val":0.66},{"wl":5870.2,"val":0.63},{"wl":5876.1,"val":0.59},{"wl":5882.6,"val":0.59},{"wl":5885.9,"val":0.91},{"wl":5889.1,"val":1.31},
{"wl":5892.5,"val":1.03},{"wl":5895.1,"val":1.05},{"wl":5897.7,"val":0.91},{"wl":5900.3,"val":0.62},{"wl":5904.2,"val":0.6},{"wl":5908.8,"val":0.62},{"wl":5913.3,"val":0.67},{"wl":5917.2,"val":0.6},{"wl":5921.8,"val":0.65},{"wl":5925.1,"val":0.59},{"wl":5930.3,"val":0.66},{"wl":5934.8,"val":0.59},{"wl":5941.4,"val":0.63},{"wl":5945.9,"val":0.58},{"wl":5952.4,"val":0.66},{"wl":5957.7,"val":0.58},{"wl":5964.2,"val":0.57},{"wl":5970.7,"val":0.6},{"wl":5975.9,"val":0.62},{"wl":5980.5,"val":0.57},{"wl":5990.3,"val":0.56},{"wl":6000,"val":0.57},{"wl":6003.3,"val":0.58},{"wl":6009.8,"val":0.54},{"wl":6022.9,"val":0.53},{"wl":6032.6,"val":0.54},{"wl":6042.4,"val":0.53},{"wl":6062,"val":0.53},{"wl":6081.5,"val":0.51},{"wl":6097.8,"val":0.52},{"wl":6120.7,"val":0.5},{"wl":6133.7,"val":0.51},{"wl":6140.2,"val":0.53},{"wl":6146.7,"val":0.5},{"wl":6159.8,"val":0.49},{"wl":6169.6,"val":0.54},{"wl":6176.1,"val":0.5},{"wl":6189.1,"val":0.49},{"wl":6198.9,"val":0.52},{"wl":6205.4,"val":0.49},{"wl":6211.9,"val":0.49},{"wl":6218.5,"val":0.53},{"wl":6225,"val":0.47},{"wl":6230.2,"val":0.56},{"wl":6234.8,"val":0.7},{"wl":6241.3,"val":0.58},{"wl":6247.8,"val":0.49},{"wl":6254.3,"val":0.69},{"wl":6260.8,"val":0.53},{"wl":6267.4,"val":0.54},{"wl":6273.9,"val":0.49},{"wl":6280.4,"val":0.56},{"wl":6285,"val":0.63},{"wl":6290.2,"val":0.49},{"wl":6293.4,"val":0.63},{"wl":6298,"val":1.02},{"wl":6301.9,"val":0.84},{"wl":6304.5,"val":0.69},{"wl":6308.4,"val":0.63},{"wl":6313,"val":0.51},{"wl":6317.6,"val":0.53},{"wl":6322.8,"val":0.46},{"wl":6329.3,"val":0.49},{"wl":6335.8,"val":0.47},{"wl":6342.3,"val":0.49},{"wl":6347.6,"val":0.51},{"wl":6352.1,"val":0.56},{"wl":6356.7,"val":0.52},{"wl":6361.9,"val":0.66},{"wl":6365.8,"val":0.53},{"wl":6371.7,"val":0.46},{"wl":6378.2,"val":0.49},{"wl":6384.7,"val":0.51},{"wl":6391.2,"val":0.45},{"wl":6401,"val":0.45},{"wl":6408.8,"val":0.44},{"wl":6417.3,"val":0.46},{"wl":6423.8,"val":0.43},{"wl":6433.6,"val":0.42},{"wl":6443.4,"val":0.42},{"wl":6449.9,"val":0.44},{"wl":6455.1,"val":0.45},{"wl":6458.4,"val":0.49},
{"wl":6459.8,"val":0.51},{"wl":6463.7,"val":0.58},{"wl":6467.6,"val":0.53},{"wl":6471.5,"val":0.44},{"wl":6476.1,"val":0.43},{"wl":6480.6,"val":0.42},{"wl":6487.1,"val":0.43},{"wl":6492.4,"val":0.49},{"wl":6496.9,"val":0.66},{"wl":6500.2,"val":0.51},{"wl":6504.1,"val":0.44},{"wl":6508.7,"val":0.43},{"wl":6513.2,"val":0.44},{"wl":6518.4,"val":0.42},{"wl":6525,"val":0.46},{"wl":6530.2,"val":0.62},{"wl":6534.7,"val":0.46},{"wl":6538,"val":0.44},{"wl":6541.3,"val":0.49},{"wl":6544.5,"val":0.42},{"wl":6547.8,"val":0.44},{"wl":6551,"val":0.63},{"wl":6554.3,"val":0.44},{"wl":6557.6,"val":0.63},{"wl":6561.5,"val":0.49},{"wl":6565.4,"val":0.43},{"wl":6570.6,"val":0.49},{"wl":6575.2,"val":0.58},{"wl":6578.4,"val":0.44},{"wl":6583.6,"val":0.4},{"wl":6590.2,"val":0.42},{"wl":6594.1,"val":0.44},{"wl":6598,"val":0.4},{"wl":6601.9,"val":0.46},{"wl":6606.5,"val":0.42},{"wl":6611,"val":0.39},{"wl":6619.5,"val":0.39},{"wl":6626,"val":0.4},{"wl":6631.2,"val":0.43},{"wl":6635.8,"val":0.39},{"wl":6645.6,"val":0.39},{"wl":6655.4,"val":0.39},{"wl":6665.1,"val":0.4},{"wl":6674.9,"val":0.38},{"wl":6688,"val":0.38},{"wl":6697.7,"val":0.4},{"wl":6707.5,"val":0.38},{"wl":6714,"val":0.39},{"wl":6727.1,"val":0.38},{"wl":6740.1,"val":0.38},{"wl":6753.2,"val":0.37},{"wl":6766.2,"val":0.37},{"wl":6779.2,"val":0.36},{"wl":6792.3,"val":0.37},{"wl":6805.3,"val":0.36},{"wl":6818.4,"val":0.36},{"wl":6822.3,"val":0.56},{"wl":6826.2,"val":0.73},{"wl":6830.1,"val":0.7},{"wl":6834,"val":0.44},{"wl":6837.9,"val":0.39},{"wl":6841.8,"val":0.37},{"wl":6851,"val":0.37},{"wl":6856.2,"val":0.44},{"wl":6860.1,"val":0.86},{"wl":6864,"val":0.58},{"wl":6867.9,"val":0.52},{"wl":6871.8,"val":0.44},{"wl":6877,"val":0.49},{"wl":6881,"val":0.44},{"wl":6884.9,"val":0.58},{"wl":6888.8,"val":0.44},{"wl":6892.7,"val":0.51},{"wl":6896.6,"val":0.43},{"wl":6900.5,"val":0.51},{"wl":6904.4,"val":0.44},{"wl":6908.3,"val":0.51},{"wl":6912.2,"val":0.46},{"wl":6916.2,"val":0.42},{"wl":6920.1,"val":0.67},{"wl":6924,"val":0.42},{"wl":6927.9,"val":0.44},{"wl":6931.8,"val":0.39},{"wl":6935.7,"val":0.49},{"wl":6939.6,"val":0.42},{"wl":6943.5,"val":0.7},{"wl":6947.5,"val":0.39},{"wl":6951.4,"val":0.44},{"wl":6955.3,"val":0.39},{"wl":6960.5,"val":0.42},{"wl":6964.4,"val":0.39},{"wl":6968.3,"val":0.44},{"wl":6971.6,"val":0.51},{"wl":6974.8,"val":0.59},{"wl":6978.8,"val":0.42},{"wl":6982.7,"val":0.39},{"wl":6987.9,"val":0.38},{"wl":6994.4,"val":0.39},{"wl":6999.6,"val":0.46},{"wl":7004.8,"val":0.42},{"wl":7008.7,"val":0.44},{"wl":7012.7,"val":0.36},{"wl":7020.5,"val":0.34},{"wl":7025.7,"val":0.36},
{"wl":7032.3,"val":0.34},{"wl":7036.8,"val":0.37},{"wl":7041.4,"val":0.39},{"wl":7044,"val":0.44},{"wl":7047.9,"val":0.39},{"wl":7053.1,"val":0.38},{"wl":7059.7,"val":0.37},{"wl":7069.4,"val":0.37},{"wl":7076,"val":0.38},{"wl":7082.5,"val":0.39},{"wl":7085.7,"val":0.4},{"wl":7089.7,"val":0.37},{"wl":7098.8,"val":0.36},{"wl":7111.8,"val":0.35},{"wl":7121.6,"val":0.36},{"wl":7124.9,"val":0.37},{"wl":7131.4,"val":0.36},{"wl":7137.9,"val":0.39},{"wl":7141.2,"val":0.4},{"wl":7145.7,"val":0.37},{"wl":7154.2,"val":0.36},{"wl":7164,"val":0.39},{"wl":7170.5,"val":0.42},{"wl":7175.7,"val":0.4},{"wl":7180.3,"val":0.38},{"wl":7186.8,"val":0.36},{"wl":7193.3,"val":0.36},{"wl":7203.1,"val":0.35},{"wl":7214.8,"val":0.34},{"wl":7222.7,"val":0.37},{"wl":7229.2,"val":0.38},{"wl":7232.4,"val":0.51},{"wl":7235.7,"val":1.02},{"wl":7239.6,"val":0.93},{"wl":7242.2,"val":0.67},{"wl":7245.5,"val":0.39},{"wl":7248.7,"val":0.53},{"wl":7252,"val":0.39},{"wl":7258.5,"val":0.39},{"wl":7265,"val":0.49},{"wl":7271.6,"val":1.17},{"wl":7274.8,"val":0.67},{"wl":7278.1,"val":0.66},{"wl":7281.3,"val":0.49},{"wl":7286.6,"val":0.39},{"wl":7289.2,"val":0.46},{"wl":7294.4,"val":0.39},{"wl":7298.3,"val":0.58},{"wl":7302.2,"val":0.39},{"wl":7306.1,"val":0.49},{"wl":7310.7,"val":1.0},{"wl":7313.9,"val":0.67},{"wl":7317.9,"val":0.42},{"wl":7320.5,"val":0.56},{"wl":7324.4,"val":0.64},{"wl":7328.3,"val":0.44},{"wl":7332.2,"val":0.39},{"wl":7335.5,"val":1.06},{"wl":7338.7,"val":0.63},{"wl":7343.3,"val":0.39},{"wl":7347.8,"val":0.42},{"wl":7353.1,"val":0.63},{"wl":7357,"val":0.39},{"wl":7360.9,"val":0.51},{"wl":7364.8,"val":0.89},{"wl":7368.7,"val":0.51},{"wl":7372.6,"val":0.39},{"wl":7376.5,"val":0.37},{"wl":7380.4,"val":0.44},{"wl":7384.4,"val":0.56},{"wl":7388.3,"val":0.42},{"wl":7392.2,"val":0.44},{"wl":7397.4,"val":0.7},{"wl":7401.3,"val":0.39},{"wl":7406.5,"val":0.37},{"wl":7411.7,"val":0.36},{"wl":7418.3,"val":0.39},{"wl":7422.2,"val":0.47},{"wl":7426.1,"val":0.37},{"wl":7430,"val":0.42},{"wl":7433.9,"val":0.57},{"wl":7437.8,"val":0.39},{"wl":7444.3,"val":0.36},{"wl":7450.9,"val":0.36},{"wl":7457.4,"val":0.37},{"wl":7463.9,"val":0.42},{"wl":7467.8,"val":0.56},{"wl":7471.7,"val":0.51},{"wl":7475.6,"val":0.58},{"wl":7479.5,"val":0.46},{"wl":7483.5,"val":0.37},{"wl":7487.4,"val":0.42},{"wl":7491.3,"val":0.36},{"wl":7496.5,"val":0.34},{"wl":7503,"val":0.34},{"wl":7509.5,"val":0.36},{"wl":7513.5,"val":0.44},{"wl":7517.4,"val":0.84},{"wl":7521.3,"val":0.51},{"wl":7525.2,"val":0.42},{"wl":7529.1,"val":0.37},{"wl":7534.3,"val":0.39},{"wl":7538.9,"val":0.36},{"wl":7543.4,"val":0.36},{"wl":7548.7,"val":0.39},{"wl":7552.6,"val":0.53},{"wl":7556.5,"val":0.39},{"wl":7561.7,"val":0.46},{"wl":7565.6,"val":0.69},{"wl":7569.5,"val":0.49},{"wl":7573.4,"val":0.39},{"wl":7577.4,"val":0.44},{"wl":7580,"val":0.54},{"wl":7582.6,"val":0.49},{"wl":7586.5,"val":0.67},{"wl":7589.8,"val":0.91},{"wl":7592.3,"val":1.26},
{"wl":7595.7,"val":0.98},{"wl":7598.3,"val":0.98},{"wl":7600.9,"val":0.93},{"wl":7604.1,"val":0.67},{"wl":7607.4,"val":0.58},{"wl":7610.7,"val":0.56},{"wl":7613.9,"val":0.58},{"wl":7617.8,"val":0.58},{"wl":7620.4,"val":0.72},{"wl":7623,"val":0.98},{"wl":7625.7,"val":0.72},{"wl":7628.3,"val":0.58},{"wl":7632.2,"val":0.53},{"wl":7636.7,"val":0.51},{"wl":7640,"val":0.53},{"wl":7643.3,"val":0.46},{"wl":7646.5,"val":0.49},{"wl":7650.4,"val":0.42},{"wl":7653,"val":0.44},{"wl":7656.3,"val":0.54},{"wl":7659.6,"val":0.42},{"wl":7666.1,"val":0.37},{"wl":7672.6,"val":0.37},{"wl":7679.1,"val":0.39},{"wl":7685.6,"val":0.42},{"wl":7690.9,"val":0.42},{"wl":7695.4,"val":0.45},{"wl":7700,"val":0.4},{"wl":7705.2,"val":0.67},{"wl":7709.1,"val":1.05},{"wl":7713,"val":0.89},{"wl":7717,"val":0.58},{"wl":7719.5,"val":0.6},{"wl":7723.5,"val":0.42},{"wl":7728.7,"val":0.44},{"wl":7733.9,"val":0.39},{"wl":7737.8,"val":0.43},{"wl":7741.7,"val":0.67},{"wl":7745.6,"val":1.25},{"wl":7749.5,"val":0.58},{"wl":7752.1,"val":0.72},{"wl":7756.1,"val":0.46},{"wl":7760.6,"val":0.39},{"wl":7765.2,"val":0.49},{"wl":7769.1,"val":0.51},{"wl":7771.7,"val":0.6},{"wl":7774.3,"val":0.39},{"wl":7778.2,"val":0.42},{"wl":7782.1,"val":0.53},{"wl":7787.4,"val":1.03},{"wl":7791.3,"val":0.49},{"wl":7795.2,"val":0.42},{"wl":7799.1,"val":0.49},{"wl":7803,"val":0.7},{"wl":7806.9,"val":0.46},{"wl":7810.8,"val":0.44},{"wl":7814.7,"val":0.84},{"wl":7816.7,"val":1.18},{"wl":7820,"val":0.63},{"wl":7823.9,"val":0.44},{"wl":7827.8,"val":0.44},{"wl":7831.7,"val":0.56},{"wl":7835.6,"val":0.67},{"wl":7839.5,"val":0.42},{"wl":7843.4,"val":0.6},{"wl":7847.3,"val":1.26},{"wl":7851.2,"val":0.79},{"wl":7853.9,"val":0.77},{"wl":7856.5,"val":0.56},{"wl":7860.4,"val":0.84},{"wl":7864.3,"val":0.53},{"wl":7866.9,"val":0.65},{"wl":7869.5,"val":0.77},{"wl":7873.4,"val":0.51},{"wl":7876,"val":0.67},{"wl":7879.9,"val":0.56},{"wl":7883.8,"val":0.84},{"wl":7887.8,"val":0.46},{"wl":7891.7,"val":0.42},{"wl":7895.6,"val":0.39},{"wl":7899.5,"val":0.49},{"wl":7904.1,"val":0.96},{"wl":7908,"val":1.41},{"wl":7911.2,"val":0.91},{"wl":7915.1,"val":0.51},{"wl":7919.1,"val":0.46},{"wl":7923,"val":0.67},{"wl":7925.6,"val":0.75},{"wl":7929.5,"val":0.46},{"wl":7933.4,"val":0.39},{"wl":7937.3,"val":0.44},{"wl":7942.5,"val":0.67},{"wl":7946.4,"val":0.44},{"wl":7951.7,"val":0.42},{"wl":7955.6,"val":0.79},{"wl":7958.2,"val":1.24},{"wl":7962.1,"val":0.49},{"wl":7966,"val":0.39},{"wl":7969.9,"val":0.58},{"wl":7972.5,"val":0.78},{"wl":7976.4,"val":0.49},{"wl":7980.3,"val":0.39},{"wl":7983,"val":0.44},{"wl":7986.9,"val":1.3},{"wl":7990.8,"val":0.63},{"wl":7994.7,"val":0.4},{"wl":7998.6,"val":0.39},{"wl":8002.5,"val":0.44},{"wl":8006.4,"val":0.67},{"wl":8010.3,"val":0.58},{"wl":8015.6,"val":0.49},{"wl":8019.5,"val":1.06},{"wl":8023.4,"val":0.6},{"wl":8027.3,"val":0.42},{"wl":8031.2,"val":0.38},{"wl":8037.7,"val":0.39},{"wl":8041.6,"val":0.51},{"wl":8044.2,"val":0.59},{"wl":8048.2,"val":0.44},{"wl":8052.1,"val":0.39},{"wl":8056,"val":0.75},{"wl":8059.9,"val":0.44},{"wl":8065.1,"val":0.38},{"wl":8072.9,"val":0.39},{"wl":8080.8,"val":0.39},{"wl":8084.7,"val":0.44},{"wl":8087.3,"val":0.49},{"wl":8089.9,"val":0.42},{"wl":8092.5,"val":0.49},{"wl":8095.1,"val":0.58},{"wl":8099,"val":0.44},{"wl":8104.2,"val":0.38},{"wl":8110.7,"val":0.37},{"wl":8117.3,"val":0.37},{"wl":8125.7,"val":0.39},{"wl":8130.3,"val":0.45},{"wl":8134.2,"val":0.42},{"wl":8139.4,"val":0.49},{"wl":8143.3,"val":0.4},{"wl":8148.6,"val":0.39},{"wl":8155.1,"val":0.38},{"wl":8160.3,"val":0.39},
{"wl":8164.9,"val":0.39},{"wl":8171.4,"val":0.4},{"wl":8178,"val":0.39},{"wl":8181.2,"val":0.42},{"wl":8184.5,"val":0.39},{"wl":8191,"val":0.38},{"wl":8197.5,"val":0.39},{"wl":8204,"val":0.39},{"wl":8210.6,"val":0.38},{"wl":8217.1,"val":0.42},{"wl":8220.3,"val":0.43},{"wl":8226.9,"val":0.43},{"wl":8233.4,"val":0.43},{"wl":8239.9,"val":0.42},{"wl":8246.4,"val":0.4},{"wl":8253,"val":0.4},{"wl":8259.5,"val":0.39},{"wl":8264.7,"val":0.42},{"wl":8269.2,"val":0.49},{"wl":8272.5,"val":0.67},{"wl":8276.4,"val":1.03},{"wl":8279,"val":1.11},{"wl":8281.6,"val":0.91},{"wl":8284.2,"val":0.72},{"wl":8286.8,"val":0.58},{"wl":8289.5,"val":0.91},{"wl":8292.1,"val":1.33},{"wl":8294.7,"val":0.91},{"wl":8297.3,"val":0.53},{"wl":8300.5,"val":0.44},{"wl":8303.8,"val":0.71},{"wl":8306.4,"val":0.51},{"wl":8310.3,"val":0.42},{"wl":8314.9,"val":0.38},{"wl":8321.4,"val":0.39},{"wl":8327.9,"val":0.44},{"wl":8331.2,"val":0.72},{"wl":8333.8,"val":1.9},{"wl":8337.7,"val":1.9},{"wl":8341,"val":0.75},{"wl":8342.9,"val":1.0},{"wl":8345.5,"val":0.79},{"wl":8348.1,"val":0.53},{"wl":8352,"val":0.42},{"wl":8356,"val":0.7},{"wl":8358.6,"val":0.51},{"wl":8362.5,"val":0.42},{"wl":8366.4,"val":0.44},{"wl":8370.3,"val":0.67},{"wl":8374.2,"val":0.89},{"wl":8376.8,"val":0.63},{"wl":8380.7,"val":0.42},{"wl":8384.6,"val":0.4},{"wl":8388.6,"val":0.91},{"wl":8391.2,"val":1.9},{"wl":8393.8,"val":0.91},{"wl":8396.4,"val":0.51},{"wl":8400.3,"val":0.42},{"wl":8402.9,"val":0.51},{"wl":8406.8,"val":0.93},{"wl":8410.7,"val":0.51},{"wl":8414.6,"val":0.4},{"wl":8418.6,"val":0.63},{"wl":8421.2,"val":1.9},{"wl":8424.4,"val":1.9},{"wl":8427.7,"val":0.67},{"wl":8430.3,"val":0.44},{"wl":8434.2,"val":0.39},{"wl":8439.4,"val":0.51},{"wl":8443.3,"val":0.89},{"wl":8447.2,"val":0.46},{"wl":8451.2,"val":0.42},{"wl":8455.1,"val":0.67},{"wl":8457.7,"val":1.45},{"wl":8460.3,"val":0.91},{"wl":8462.9,"val":0.46},{"wl":8466.8,"val":0.39},{"wl":8470.7,"val":0.38},{"wl":8475.9,"val":0.39},{"wl":8481.1,"val":0.53},{"wl":8485.1,"val":0.77},{"wl":8489,"val":0.51},{"wl":8492.9,"val":0.58},{"wl":8497.4,"val":1.08},{"wl":8500.7,"val":0.51},{"wl":8504.6,"val":0.39},{"wl":8508.5,"val":0.38},{"wl":8517.7,"val":0.38},{"wl":8522.9,"val":0.39},{"wl":8526.8,"val":0.49},{"wl":8530.7,"val":0.58},{"wl":8534.6,"val":0.44},{"wl":8538.5,"val":0.72},{"wl":8542.4,"val":0.44},{"wl":8546.3,"val":0.39},{"wl":8552.9,"val":0.38},{"wl":8559.4,"val":0.39},{"wl":8565.9,"val":0.4},{"wl":8571.1,"val":0.38},{"wl":8575,"val":0.42},{"wl":8578.9,"val":0.51},{"wl":8582.2,"val":0.44},{"wl":8585.5,"val":0.53},{"wl":8589.4,"val":0.54},{"wl":8593.3,"val":0.42},{"wl":8598.5,"val":0.49},{"wl":8602.4,"val":0.58},{"wl":8606.3,"val":0.67},{"wl":8610.2,"val":0.82},{"wl":8614.2,"val":0.91},{"wl":8618.1,"val":0.93},{"wl":8622,"val":0.93},{"wl":8625.9,"val":0.86},{"wl":8629.8,"val":0.67},{"wl":8633.7,"val":0.6},{"wl":8637.6,"val":0.67},{"wl":8641.5,"val":0.84},{"wl":8645.4,"val":0.93},{"wl":8649.4,"val":0.99},{"wl":8653.3,"val":1.0},{"wl":8657.2,"val":0.93},{"wl":8661.1,"val":0.82},{"wl":8665,"val":0.7},{"wl":8668.9,"val":0.65},{"wl":8672.8,"val":0.58},{"wl":8676.7,"val":0.54},{"wl":8680.7,"val":0.5},{"wl":8684.6,"val":0.47},{"wl":8688.5,"val":0.46},{"wl":8692.4,"val":0.47},{"wl":8696.3,"val":0.45},{"wl":8700.2,"val":0.44},{"wl":8704.1,"val":0.43},{"wl":8709.3,"val":0.4},{"wl":8713.3,"val":0.39},{"wl":8717.2,"val":0.4},{"wl":8722.4,"val":0.39},{"wl":8727.6,"val":0.4},
{"wl":8735.5,"val":0.41},{"wl":8742,"val":0.46},{"wl":8745.3,"val":0.91},{"wl":8748.5,"val":1.5},{"wl":8751.8,"val":1.6},{"wl":8755,"val":1.22},{"wl":8757.6,"val":1.9},{"wl":8761.6,"val":1.9},{"wl":8764.2,"val":0.63},{"wl":8766.8,"val":1.9},{"wl":8769.4,"val":1.9},{"wl":8772,"val":0.67},{"wl":8774.6,"val":0.44},{"wl":8778.5,"val":0.6},{"wl":8782.4,"val":0.91},{"wl":8786.3,"val":0.58},{"wl":8790.2,"val":0.42},{"wl":8794.2,"val":0.39},{"wl":8798.1,"val":0.49},{"wl":8802,"val":0.44},{"wl":8805.9,"val":0.39},{"wl":8809.8,"val":0.49},{"wl":8813.7,"val":1.38},{"wl":8817,"val":1.9},{"wl":8820.2,"val":1.15},{"wl":8824.2,"val":0.84},{"wl":8828.1,"val":1.42},{"wl":8830.7,"val":0.91},{"wl":8834.6,"val":0.53},{"wl":8838.5,"val":0.42},{"wl":8842.4,"val":0.82},{"wl":8846.3,"val":0.56},{"wl":8850.2,"val":0.42},{"wl":8854.1,"val":0.51},{"wl":8858.1,"val":1.18},{"wl":8862,"val":0.56},{"wl":8865.9,"val":0.44},{"wl":8869.8,"val":0.46},{"wl":8873.7,"val":0.72},{"wl":8877.6,"val":1.9},{"wl":8880.2,"val":1.9},{"wl":8882.8,"val":0.56},{"wl":8886.7,"val":0.44},{"wl":8890.7,"val":0.49},{"wl":8894.6,"val":1.38},{"wl":8897.2,"val":1.15},{"wl":8899.8,"val":0.56},{"wl":8902.4,"val":0.67},{"wl":8905,"val":1.15},{"wl":8908.9,"val":1.9},{"wl":8911.5,"val":1.9},{"wl":8914.1,"val":0.91},{"wl":8916.7,"val":0.53},{"wl":8920.6,"val":0.44},{"wl":8924.6,"val":0.65},{"wl":8928.5,"val":0.51},{"wl":8932.4,"val":0.53},{"wl":8935,"val":1.31},{"wl":8937.6,"val":0.67},{"wl":8941.5,"val":0.49},{"wl":8945.4,"val":0.56},{"wl":8949.3,"val":1.9},{"wl":8951.9,"val":1.15},{"wl":8955.9,"val":0.51},{"wl":8959.8,"val":0.46},{"wl":8963.7,"val":0.49},{"wl":8967.6,"val":0.53},{"wl":8971.5,"val":0.51},{"wl":8975.4,"val":0.91},{"wl":8979.3,"val":1.25},{"wl":8981.9,"val":0.79},{"wl":8985.8,"val":0.53},{"wl":8989.8,"val":0.91},{"wl":8991.7,"val":1.9},{"wl":8995,"val":0.91},{"wl":8997.6,"val":0.51},{"wl":9001.5,"val":0.49},{"wl":9005.4,"val":0.46},{"wl":9013.2,"val":0.49},{"wl":9017.1,"val":0.51},{"wl":9021.1,"val":0.67},{"wl":9025,"val":0.49},{"wl":9028.9,"val":0.78},{"wl":9032.8,"val":0.56},{"wl":9036.7,"val":0.67},{"wl":9040.6,"val":1.0},{"wl":9044.5,"val":0.67},{"wl":9048.4,"val":0.51},{"wl":9052.4,"val":0.46},{"wl":9061.5,"val":0.45},{"wl":9069.3,"val":0.49},{"wl":9078.4,"val":0.49},{"wl":9082.3,"val":0.66},{"wl":9086.3,"val":0.51},{"wl":9090.2,"val":0.53},{"wl":9092.8,"val":0.76},{"wl":9096.7,"val":0.53},{"wl":9100.6,"val":0.45},{"wl":9113.6,"val":0.45},{"wl":9126.7,"val":0.45},{"wl":9137.1,"val":0.49},{"wl":9141,"val":0.63},{"wl":9143.6,"val":0.51},{"wl":9147.5,"val":0.53},{"wl":9151.5,"val":0.67},{"wl":9155.4,"val":0.49},{"wl":9159.3,"val":0.46},{"wl":9172.3,"val":0.47},{"wl":9185.4,"val":0.47},{"wl":9195.8,"val":0.49},{"wl":9199.7,"val":0.51},{"wl":9203.6,"val":0.49},{"wl":9207.5,"val":0.6},{"wl":9211.4,"val":0.53},{"wl":9214,"val":0.65},{"wl":9216.7,"val":0.58},{"wl":9220.6,"val":0.51},{"wl":9224.5,"val":0.58},{"wl":9228.4,"val":0.51},{"wl":9234.9,"val":0.53},{"wl":9242.7,"val":0.51},{"wl":9250.6,"val":0.53},{"wl":9257.1,"val":0.5},{"wl":9264.9,"val":0.51},{"wl":9268.8,"val":0.52},{"wl":9272.7,"val":0.57},{"wl":9275.3,"val":0.63},{"wl":9277.9,"val":0.57},{"wl":9281.9,"val":0.66},{"wl":9285.8,"val":0.6},{"wl":9289.7,"val":0.65},{"wl":9293.6,"val":0.58},{"wl":9298,"val":0.58},{"wl":9300,"val":0.58}
],
"zero": [{"val": 0}]
},
"layer": [
  {
    "data": {"name": "flux"},
    "mark": {"type": "line", "color": "#000000", "strokeWidth": 4.2, "strokeJoin": "round", "clip": true},
    "encoding": {
      "x": {"field": "wl", "type": "quantitative", "scale": {"domain": [4750, 9300], "nice": false, "zero": false},
        "axis": {"values": [5000, 6000, 7000, 8000, 9000], "format": "d", "labelFontSize": 28, "labelPadding": 12, "title": "Wavelength", "titleFontSize": 32, "titleY": 84, "titleBaseline": "alphabetic"}},
      "y": {"field": "val", "type": "quantitative", "scale": {"domain": [-2.0, 1.545], "nice": false, "zero": false},
        "axis": {"values": [-2, -1.5, -1, -0.5, 0, 0.5, 1, 1.5], "format": ".1f", "labelFontSize": 35, "labelPadding": 14, "title": "10⁻¹⁸ erg s⁻¹ cm⁻² Å⁻¹", "titleFontSize": 50, "titleAngle": 270, "titleX": -150, "titleY": 346, "titleAlign": "center", "titleBaseline": "alphabetic"}}
    }
  },
  {
    "data": {"name": "noise"},
    "mark": {"type": "line", "color": "#008000", "strokeWidth": 1.5, "clip": true},
    "encoding": {
      "x": {"field": "wl", "type": "quantitative"},
      "y": {"field": "val", "type": "quantitative"}
    }
  },
  {
    "data": {"name": "zero"},
    "mark": {"type": "rule", "color": "#0000ff", "strokeWidth": 5},
    "encoding": {
      "y": {"field": "val", "type": "quantitative"}
    }
  }
]
}
